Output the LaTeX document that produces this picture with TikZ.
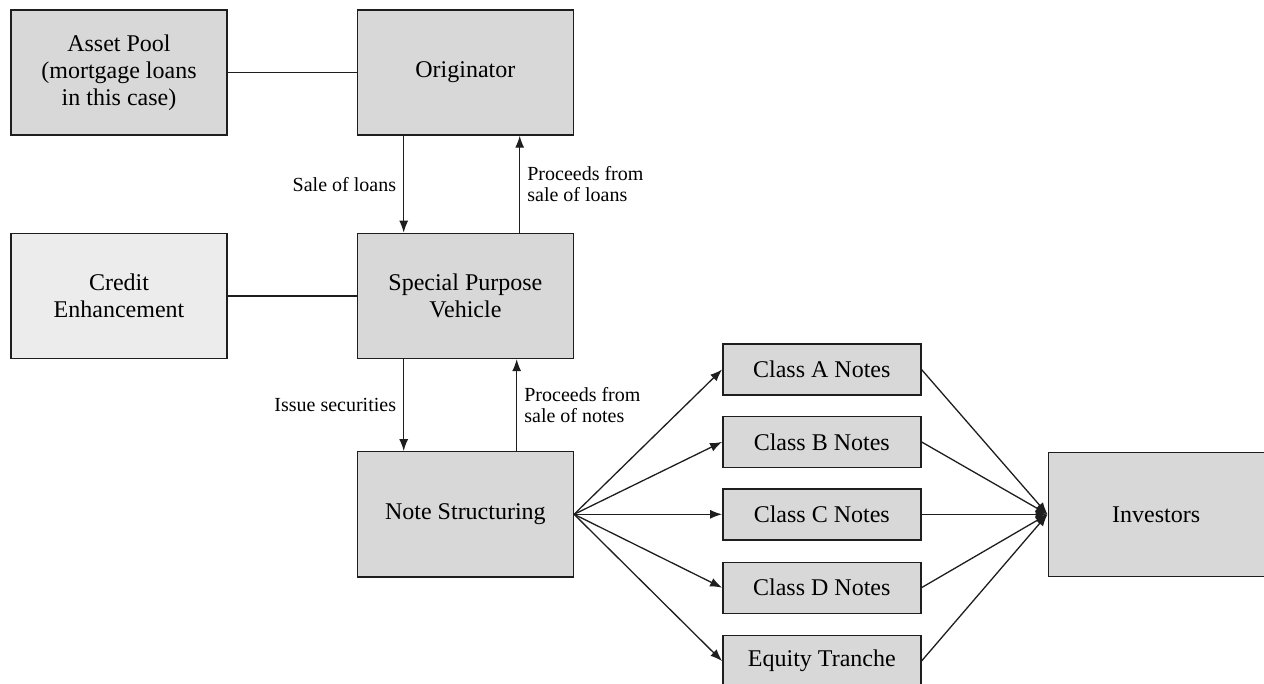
\documentclass[tikz,border=0pt]{standalone}
\usepackage{fontspec}
\setmainfont{Liberation Serif}
\usepackage{xcolor}
\usetikzlibrary{positioning,arrows.meta}

\definecolor{boxgray}{RGB}{216,216,216}
\definecolor{creditgray}{RGB}{236,236,236}
\definecolor{edgegray}{RGB}{30,30,30}

\tikzset{
  box/.style={draw=edgegray, line width=1.4pt, fill=boxgray, align=center,
    minimum width=216pt, minimum height=125pt, inner sep=2pt,
    font=\fontsize{24}{27}\selectfont},
  notebox/.style={box, minimum width=198pt, minimum height=51pt},
  flow/.style={-{Latex[length=12pt,width=9pt]}, line width=1.3pt, draw=edgegray},
  link/.style={line width=1.4pt, draw=edgegray},
  lbl/.style={font=\fontsize{20}{21}\selectfont, align=left, inner sep=7pt}
}

\begin{document}
\begin{tikzpicture}[x=1pt, y=1pt]
    \useasboundingbox (0,0) rectangle (1264,-684);

    \node[box] (pool) at (119,-72.5) {Asset Pool\\(mortgage loans\\in this case)};
    \node[box, right=129pt of pool] (orig) {Originator};
    \node[box, fill=creditgray, below=97pt of pool] (credit) {Credit\\Enhancement};
    \node[box, right=129pt of credit] (spv) {Special Purpose\\Vehicle};
    \node[box, below=92pt of spv] (notes) {Note Structuring};

    \node[notebox, right=148pt of notes] (classC) {Class C Notes};
    \node[notebox, above=20pt of classC] (classB) {Class B Notes};
    \node[notebox, above=20pt of classB] (classA) {Class A Notes};
    \node[notebox, below=21pt of classC] (classD) {Class D Notes};
    \node[notebox, below=21pt of classD] (equity) {Equity Tranche};

    \node[box, minimum height=124pt, right=126pt of classC] (inv) {Investors};

    \draw[link] (pool) -- (orig);
    \draw[link] (credit) -- (spv);

    \draw[flow] ([xshift=47pt]orig.south west) -- node[lbl, left] {Sale of loans} ([xshift=47pt]spv.north west);
    \draw[flow] ([xshift=163pt]spv.north west) -- node[lbl, right] {Proceeds from\\sale of loans} ([xshift=163pt]orig.south west);
    \draw[flow] ([xshift=47pt]spv.south west) -- node[lbl, left] {Issue securities} ([xshift=47pt]notes.north west);
    \draw[flow] ([xshift=160pt]notes.north west) -- node[lbl, right] {Proceeds from\\sale of notes} ([xshift=160pt]spv.south west);

    \draw[flow] (notes.east) -- (classA.west);
    \draw[flow] (notes.east) -- (classB.west);
    \draw[flow] (notes.east) -- (classC.west);
    \draw[flow] (notes.east) -- (classD.west);
    \draw[flow] (notes.east) -- (equity.west);

    \draw[flow] (classA.east) -- (inv.west);
    \draw[flow] (classB.east) -- (inv.west);
    \draw[flow] (classC.east) -- (inv.west);
    \draw[flow] (classD.east) -- (inv.west);
    \draw[flow] (equity.east) -- (inv.west);
\end{tikzpicture}
\end{document}
